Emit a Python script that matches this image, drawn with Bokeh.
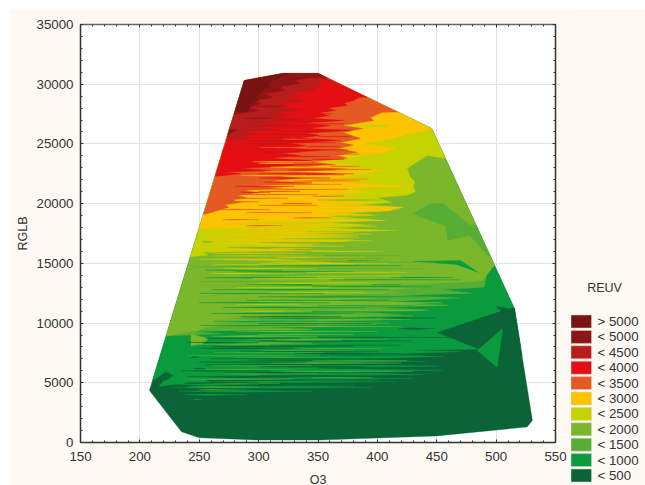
from bokeh.plotting import figure
from bokeh.layouts import row
from bokeh.models import (FixedTicker, LinearAxis, CustomJSTickFormatter, Range1d)
from bokeh.core.properties import value
from bokeh.embed import file_html
from bokeh.resources import INLINE

X_TICKS = [150, 200, 250, 300, 350, 400, 450, 500, 550]
Y_TICKS = [0, 5000, 10000, 15000, 20000, 25000, 30000, 35000]
X_MINOR = [v for v in range(150, 551, 10)]
Y_MINOR = [v for v in range(0, 35001, 1000)]
LEGEND_TITLE = "REUV"
LEGEND_LABELS = ["> 5000", "< 5000", "< 4500", "< 4000", "< 3500", "< 3000", "< 2500", "< 2000", "< 1500", "< 1000", "< 500"]
# band colours, lowest (<500) first
BAND_COLORS = ["#0B6338", "#0A9B3E", "#57AE35", "#7AB72B", "#C6D300", "#FDC300",
               "#E55A22", "#E30F13", "#B81C1C", "#8F1515", "#7A1412"]

# outline of the sampled area (O3, RGLB)
HULL = [(208, 4350), (235, 900), (250, 400), (300, 200), (352, 200), (450, 550), (526, 1300), (530.6, 1850),
        (515.5, 11200), (445.6, 26300), (350, 30900), (321, 30900), (288, 30300)]

# each contour: (RGLB, O3 reached by the higher band at that RGLB)
C_500 = [(5300, 222), (5350, 430), (5500, 340), (5700, 440), (5900, 360), (6050, 455), (6200, 345), (6400, 452),
         (6600, 310), (6800, 440), (7000, 380), (7200, 455), (7400, 410), (7600, 470), (7750, 430), (7900, 600)]
C_1000 = [(8900, 215), (9100, 270), (9300, 245), (9500, 345), (9700, 300), (9900, 400), (10100, 330), (10300, 428),
          (10500, 360), (10700, 420), (10900, 390), (11100, 445), (11300, 400), (11500, 460), (11700, 395),
          (11900, 430), (12100, 470), (12300, 420), (12500, 480), (12800, 455), (13000, 490), (14000, 492),
          (14400, 488), (14800, 492), (15600, 500), (15700, 600)]
C_1500 = [(8800, 215), (9200, 240), (9400, 250), (9600, 255), (9800, 275), (10000, 262), (10200, 300), (10400, 270),
          (10600, 320), (10800, 285), (11000, 345), (11200, 300), (11400, 385), (11700, 455), (11900, 350),
          (12100, 400), (12300, 340), (12500, 420), (12700, 380), (12900, 435), (13100, 375), (13300, 440),
          (13500, 488), (14000, 492), (14500, 496), (15000, 500), (15600, 520), (15700, 600)]
C_2000 = [(15500, 238), (15700, 258), (15900, 252), (16100, 330), (16300, 270), (16500, 345), (16700, 300),
          (16900, 395), (17100, 320), (17300, 385), (17500, 340), (17750, 415), (18000, 350), (18200, 395),
          (18400, 360), (18600, 408), (18800, 370), (19000, 400), (19200, 375), (19400, 410), (19700, 422),
          (19900, 385), (20100, 412), (20500, 400), (20700, 425), (21000, 432), (21500, 430), (21800, 432),
          (22200, 428), (22950, 425), (24030, 442), (23800, 455), (23700, 600)]
C_2500 = [(17900, 255), (18100, 300), (18300, 270), (18500, 330), (18600, 405), (18800, 330), (19000, 385),
          (19200, 350), (19400, 410), (19700, 419), (19900, 360), (20100, 400), (20300, 345), (20500, 385),
          (20700, 350), (21000, 395), (21200, 360), (21500, 428), (21700, 370), (22000, 395), (22200, 365),
          (22500, 385), (22800, 405), (23000, 360), (23300, 385), (23500, 345), (23800, 375), (24100, 395),
          (24400, 410), (24700, 415), (25000, 385), (25200, 400), (25500, 415), (25900, 428), (26200, 444), (26300, 600)]
C_3000 = [(19100, 254), (19300, 262), (19500, 268), (19700, 275), (19900, 272), (20100, 285), (20300, 278),
          (20500, 290), (20700, 282), (20900, 300), (21100, 288), (21300, 320), (21500, 295), (21700, 345),
          (21900, 310), (22100, 335), (22300, 318), (22500, 365), (22700, 330), (22900, 375), (23100, 340),
          (23300, 362), (23500, 345), (23800, 375), (24030, 366), (24300, 383), (24620, 367), (24900, 380),
          (25120, 369), (25450, 386), (25950, 371), (26290, 388), (26540, 371.5), (26960, 397), (27200, 394),
          (27630, 404), (28200, 600)]
C_3500 = [(22300, 265), (22500, 285), (22650, 272), (22775, 310), (22950, 285), (23190, 330), (23400, 300),
          (23610, 345), (23800, 310), (24030, 335), (24250, 318), (24450, 352), (24650, 325), (24870, 340),
          (25050, 327), (25290, 369), (25500, 335), (25700, 352), (25900, 340), (26120, 377), (26300, 344),
          (26540, 360), (26750, 340), (26960, 372), (27150, 345), (27380, 360), (27600, 350), (27800, 365),
          (28000, 358), (28220, 375), (28400, 372), (28640, 380), (28900, 385), (29100, 600)]
C_4000 = [(25600, 281), (25800, 300), (26000, 285), (26200, 315), (26400, 295), (26600, 325), (26800, 300),
          (27000, 335), (27200, 310), (27400, 325), (27600, 310), (27800, 335), (28000, 315), (28200, 325),
          (28400, 318), (28600, 338), (28800, 322), (29000, 335), (29200, 325), (29500, 345), (29800, 350),
          (30300, 352), (30500, 358), (30700, 600)]
C_4500 = [(27500, 283), (27800, 300), (28000, 290), (28380, 302), (28600, 296), (28900, 312), (29200, 305),
          (29470, 322), (29800, 318), (30060, 335), (30300, 330), (30560, 345), (30800, 600)]
C_5000 = [(27700, 291), (28300, 293), (28700, 300), (29000, 298), (29470, 304), (29800, 310), (30100, 308),
          (30480, 316), (30700, 322), (30950, 325)]
CONTOURS = [(1, C_500), (2, C_1000), (3, C_1500), (4, C_2000), (5, C_2500), (6, C_3000), (7, C_3500), (8, C_4000),
            (9, C_4500), (10, C_5000)]

# larger patches of a band: (band, vertices (O3, RGLB))
PATCHES = [
    (0, [(450.6, 9210), (506, 11050), (516, 11300), (540, 11000), (540, 7000), (484, 7870)]),
    (1, [(505.5, 9545), (501, 6280), (484, 7700)]),
    (1, [(216, 4700), (245, 5000), (262, 4950), (252, 5350), (222, 5350)]),
    (0, [(213, 5300), (222, 5900), (228, 5600), (222, 5200)]),
    (3, [(243, 9100), (250, 8900), (258, 8700), (252, 8200), (243, 8100)]),
    (2, [(430.4, 19170), (444.7, 20010), (455.7, 20010), (478, 18200), (540, 18200), (540, 14820), (492.7, 15660),
         (478, 17330), (459, 16910), (457.4, 18170), (440.5, 18750)]),
    (1, [(430.4, 15155), (470, 15240), (485, 14230), (466.5, 14900)]),
    (0, [(500, 11400), (516, 11100), (505, 10950)]),
    (4, [(372, 26550), (410, 26600), (408, 26400), (380, 26450)]),
    (8, [(262, 26500), (272, 27600), (285, 26600), (274, 25600), (262, 25000)]),
    (9, [(262, 26300), (282, 26200), (268, 25400)]),
    (7, [(258, 24000), (272, 24300), (266, 25200), (256, 25400)]),
    (8, [(268, 25300), (290, 25800), (290, 25400)]),
]

# thin streaks: (band, RGLB, O3 from, O3 to, half thickness)
STREAKS = [
    (1, 3600, 245, 252, 40), (1, 4000, 238, 290, 70), (1, 4300, 232, 345, 80), (1, 4600, 228, 395, 80),
    (1, 4850, 232, 300, 70), (1, 5080, 250, 415, 80),
    (2, 4650, 240, 300, 40), (2, 5300, 240, 330, 45), (0, 5500, 240, 370, 70),
    (2, 5750, 270, 350, 40), (0, 5850, 270, 390, 50), (2, 5950, 320, 430, 40), (0, 6200, 245, 256, 40),
    (0, 6350, 300, 390, 40), (0, 6500, 255, 400, 60), (2, 6650, 310, 420, 50), (0, 6900, 290, 440, 60),
    (0, 7150, 243, 250, 50), (2, 7100, 280, 360, 40), (0, 7450, 330, 420, 70), (2, 7700, 300, 380, 50),
    (0, 7900, 250, 330, 50), (0, 8050, 260, 380, 40), (2, 8200, 245, 350, 50), (2, 8400, 270, 330, 50),
    (0, 8500, 300, 430, 35), (2, 8650, 290, 410, 60), (0, 8800, 350, 470, 35), (3, 8900, 260, 350, 60),
    (3, 9300, 280, 400, 50), (0, 9530, 418, 448, 70), (0, 10430, 405, 450, 30), (3, 9700, 300, 420, 50),
    (1, 9800, 250, 350, 50), (3, 10000, 320, 410, 60), (1, 10400, 300, 400, 50), (3, 10600, 350, 430, 50),
    (1, 10800, 260, 380, 60), (3, 11050, 340, 440, 40), (1, 11300, 270, 390, 60), (3, 11500, 300, 459, 50),
    (1, 11700, 250, 360, 50), (4, 11850, 300, 370, 30), (1, 12200, 300, 440, 50), (3, 12350, 260, 340, 60),
    (4, 12550, 310, 390, 30), (1, 12800, 260, 410, 50), (4, 12950, 280, 360, 30), (1, 13200, 290, 420, 50),
    (4, 13350, 300, 400, 35), (1, 13815, 411, 464, 40), (1, 13800, 255, 350, 40), (4, 13950, 320, 420, 30),
    (1, 14300, 280, 380, 40), (4, 14150, 260, 330, 35), (2, 14550, 300, 440, 50), (4, 14550, 270, 350, 35),
    (1, 14800, 300, 420, 40), (4, 15000, 300, 410, 30), (1, 15200, 335, 400, 40), (5, 15100, 310, 400, 25),
    (4, 15350, 250, 330, 40), (5, 15500, 315, 390, 30), (2, 15650, 300, 420, 40), (5, 15850, 260, 340, 30),
    (3, 15900, 340, 430, 60), (5, 16050, 285, 365, 30), (3, 16350, 275, 400, 50), (5, 16250, 310, 345, 25),
    (5, 16550, 300, 385, 35), (3, 16600, 345, 440, 60), (3, 16800, 252, 262, 50), (5, 16850, 290, 375, 35),
    (3, 17050, 320, 420, 50), (5, 17150, 300, 385, 40), (3, 17300, 385, 440, 40), (5, 17450, 265, 395, 40),
    (3, 17650, 340, 410, 30), (5, 17750, 280, 395, 40), (6, 18150, 290, 320, 35), (3, 18250, 395, 450, 40),
    (5, 18100, 300, 400, 40), (6, 18800, 330, 360, 30), (3, 18950, 360, 405, 35), (6, 20150, 258, 300, 40),
    (3, 20300, 350, 405, 35), (6, 19500, 265, 310, 35), (6, 20450, 280, 325, 30), (6, 20750, 280, 350, 35),
    (7, 20950, 285, 310, 25), (6, 21200, 300, 375, 35), (7, 21450, 280, 330, 30), (6, 21900, 330, 385, 30),
    (7, 22150, 300, 360, 35), (5, 22350, 285, 340, 30), (7, 22500, 300, 380, 30), (6, 22850, 330, 395, 30),
    (5, 23050, 310, 360, 35), (7, 23250, 310, 365, 35), (5, 23500, 295, 345, 30), (7, 23950, 320, 360, 30),
    (4, 24100, 372, 392, 50), (7, 24500, 335, 375, 30), (6, 24700, 300, 350, 35), (7, 25100, 310, 365, 30),
    (8, 25250, 290, 340, 30), (6, 25400, 320, 345, 30), (8, 25800, 300, 350, 30), (7, 26150, 340, 378, 40),
    (8, 26500, 295, 340, 25), (8, 27100, 310, 345, 30), (7, 27400, 330, 350, 30),
]

# second, finer pass of streaks read from the middle of the field
FINE_STREAKS = [
    (1, 4250, 255, 320, 30), (2, 4420, 250, 290, 30), (0, 4480, 262, 330, 30), (1, 4720, 300, 380, 30),
    (2, 4950, 262, 318, 30), (0, 5000, 238, 300, 28),
    (1, 5230, 330, 400, 25), (0, 5620, 300, 420, 25), (2, 5420, 345, 395, 25), (0, 6000, 235, 310, 30),
    (2, 6120, 255, 330, 25), (0, 6270, 350, 440, 22), (2, 6430, 262, 345, 25), (0, 6730, 250, 340, 28),
    (2, 6850, 345, 425, 25), (0, 7030, 260, 395, 25), (2, 7260, 240, 330, 30), (0, 7320, 352, 448, 22),
    (2, 7530, 262, 355, 25), (0, 7640, 285, 400, 22), (2, 7850, 335, 405, 30), (0, 8150, 310, 420, 22),
    (3, 8320, 280, 345, 25), (0, 8380, 240, 300, 25), (3, 8580, 315, 370, 22), (0, 8720, 255, 335, 22),
    (3, 9050, 300, 380, 30), (1, 9200, 255, 330, 30), (3, 9450, 265, 345, 30), (1, 9620, 330, 410, 25),
    (3, 9870, 250, 322, 30), (0, 9950, 300, 395, 18), (1, 10150, 262, 350, 30), (3, 10280, 340, 402, 25),
    (0, 10520, 285, 370, 20), (3, 10720, 255, 330, 30), (1, 10930, 320, 415, 30), (4, 11000, 285, 345, 18),
    (3, 11220, 262, 352, 30), (1, 11450, 350, 430, 22), (4, 11580, 280, 335, 20), (1, 11900, 290, 410, 28),
    (3, 12050, 255, 345, 35), (1, 12480, 250, 355, 28), (3, 12650, 332, 418, 25), (1, 13050, 345, 445, 28),
    (3, 13120, 258, 322, 25), (4, 13220, 345, 395, 20), (2, 13480, 252, 345, 30), (1, 13620, 360, 470, 18),
    (4, 13720, 295, 372, 22), (2, 14020, 285, 400, 28), (4, 14240, 340, 425, 20), (1, 14430, 255, 320, 22),
    (2, 14720, 245, 340, 28), (4, 14880, 262, 352, 28), (5, 14960, 345, 380, 16), (2, 15080, 360, 450, 22),
    (4, 15220, 290, 375, 25), (5, 15300, 270, 320, 18), (2, 15440, 340, 405, 20), (4, 15620, 262, 355, 30),
    (3, 15760, 330, 395, 22), (4, 16000, 345, 405, 25), (5, 16180, 262, 330, 28), (4, 16420, 300, 372, 25),
    (5, 16680, 262, 352, 28), (3, 16760, 300, 355, 18), (5, 16960, 260, 330, 30), (4, 17000, 318, 380, 28),
    (5, 17280, 255, 345, 35), (4, 17380, 300, 352, 20), (5, 17600, 290, 380, 35), (4, 17700, 340, 395, 18),
    (5, 17920, 258, 370, 40), (4, 18020, 335, 378, 18), (5, 18280, 268, 385, 40), (4, 18420, 290, 355, 20),
    (5, 18550, 300, 360, 30), (4, 18720, 335, 395, 22), (6, 18650, 270, 300, 18), (5, 19100, 330, 395, 30),
    (6, 19250, 290, 345, 20), (4, 19560, 350, 402, 18), (6, 19850, 300, 350, 22), (7, 20000, 320, 345, 14),
    (6, 20620, 345, 372, 18), (7, 21030, 300, 335, 14), (4, 21350, 385, 425, 22), (6, 21620, 310, 370, 20),
    (7, 21800, 305, 345, 16), (6, 22050, 345, 392, 18), (7, 22420, 340, 372, 18), (5, 22680, 305, 345, 20),
    (7, 22820, 325, 365, 18), (6, 23130, 360, 385, 16), (5, 23380, 300, 330, 18), (7, 23720, 345, 372, 16),
    (6, 24150, 360, 385, 18), (8, 24300, 300, 335, 16), (7, 24780, 340, 368, 16), (8, 25000, 285, 325, 18),
    (7, 25620, 350, 378, 18), (8, 26050, 315, 350, 16), (7, 26680, 345, 372, 16), (8, 26880, 325, 350, 14),
    (7, 27550, 335, 362, 16), (8, 27950, 320, 348, 14), (9, 27150, 288, 310, 25), (9, 28150, 298, 320, 18),
]


def clip_to_hull(poly):
    """Sutherland-Hodgman against the outline (listed anti-clockwise)."""
    out = list(poly)
    for i in range(len(HULL)):
        ax, ay = HULL[i]
        bx, by = HULL[(i + 1) % len(HULL)]
        side = lambda q: (bx - ax) * (q[1] - ay) - (by - ay) * (q[0] - ax)
        new = []
        for j in range(len(out)):
            c, d = out[j], out[(j + 1) % len(out)]
            sc, sd = side(c), side(d)
            if sc >= 0:
                new.append(c)
            if (sc >= 0) != (sd >= 0):
                t = sc / (sc - sd)
                new.append((c[0] + t * (d[0] - c[0]), c[1] + t * (d[1] - c[1])))
        out = new
        if not out:
            break
    return out


polys = [(0, HULL)]
for band, rows in CONTOURS:
    pts = [(x, y) for y, x in rows]
    lx, _ = pts[-1]
    polys.append((band, [(100, rows[0][0])] + pts + [(lx, 31500), (100, 31500)]))
polys += PATCHES
for band, y, x0, x1, h in STREAKS + FINE_STREAKS:
    xm = x0 + (x1 - x0) * 0.35
    polys.append((band, [(x0, y), (xm, y + h), (x1, y), (xm, y - h)]))

xs, ys, cs = [], [], []
for band, poly in polys:
    c = clip_to_hull(poly)
    if len(c) >= 3:
        xs.append([q[0] for q in c])
        ys.append([q[1] for q in c])
        cs.append(BAND_COLORS[band])

FONT = "Liberation Sans"
INK = "#333333"
CREAM = "#FEF9F2"
TOTAL_H = 476

p = figure(width=561, height=TOTAL_H, output_backend="svg", toolbar_location=None,
           x_range=Range1d(150, 550), y_range=Range1d(0, 35000),
           frame_width=475, frame_height=418, min_border_left=71, min_border_top=15,
           min_border_right=15, min_border_bottom=43,
           x_axis_label="O3", y_axis_label="RGLB")
p.background_fill_color = "white"
p.border_fill_color = CREAM
p.outline_line_color = None
p.frame_align = False

p.patches(xs, ys, fill_color=cs, line_color=cs, line_width=0.3)

for ax, ticks, minor in ((p.xaxis[0], X_TICKS, X_MINOR), (p.yaxis[0], Y_TICKS, Y_MINOR)):
    ax.ticker = FixedTicker(ticks=ticks, minor_ticks=minor)
    ax.major_label_text_font = FONT
    ax.major_label_text_font_size = "13.3px"
    ax.major_label_text_color = INK
    ax.axis_label_text_font = FONT
    ax.axis_label_text_font_size = "12.5px"
    ax.axis_label_text_font_style = "normal"
    ax.axis_label_text_color = INK
    ax.axis_line_color = INK
    ax.axis_line_width = 1.5
    ax.major_tick_in, ax.major_tick_out = 3, 0
    ax.minor_tick_in, ax.minor_tick_out = 2, 0
    ax.major_tick_line_color = INK
    ax.minor_tick_line_color = INK
p.xaxis[0].major_label_standoff = 9
p.yaxis[0].major_label_standoff = 7
p.xaxis[0].axis_label_standoff = 9
p.yaxis[0].axis_label_standoff = 4

for side, ticks, minor in (("above", X_TICKS, X_MINOR), ("right", Y_TICKS, Y_MINOR)):
    a = LinearAxis(ticker=FixedTicker(ticks=ticks, minor_ticks=minor),
                   formatter=CustomJSTickFormatter(code="return ''"))
    a.axis_line_color = "#666666" if side == "above" else INK
    a.axis_line_width = 1.5
    a.major_tick_in, a.major_tick_out = 3, 0
    a.minor_tick_in, a.minor_tick_out = 2, 0
    a.major_tick_line_color = INK
    a.minor_tick_line_color = INK
    p.add_layout(a, side)

p.grid.grid_line_color = "#E2E2E2"
p.grid.grid_line_width = 1
p.xgrid.ticker = FixedTicker(ticks=X_TICKS[1:-1])
p.ygrid.ticker = FixedTicker(ticks=Y_TICKS[1:-1])

# legend panel to the right: its ranges count in page pixels
lg = figure(width=75, height=TOTAL_H, output_backend="svg", toolbar_location=None,
            x_axis_location=None, y_axis_location=None,
            x_range=Range1d(570, 645), y_range=Range1d(485, 9),
            min_border_left=0, min_border_right=0, min_border_top=0, min_border_bottom=0)
lg.grid.visible = False
lg.outline_line_color = None
lg.background_fill_color = CREAM
lg.border_fill_color = CREAM
lg.frame_align = False
n = len(LEGEND_LABELS)
tops = [314.5 + i * 15.4 for i in range(n)]
lg.quad(left=570.5, right=591, top=tops, bottom=[t + 13 for t in tops],
        fill_color=list(reversed(BAND_COLORS)), line_color="#D5D5CB", line_width=0.5)
lg.text(x=[597] * n, y=[t + 6.5 for t in tops], text=LEGEND_LABELS, text_font=value(FONT),
        text_font_size="13.3px", text_color=INK, text_baseline="middle")
lg.text(x=[604], y=[287], text=[LEGEND_TITLE], text_font=value(FONT), text_font_size="12.5px",
        text_color=INK, text_align="center", text_baseline="middle")

open("out.html", "w").write(file_html(row(p, lg, spacing=0, margin=(9, 0, 0, 9)), INLINE))
